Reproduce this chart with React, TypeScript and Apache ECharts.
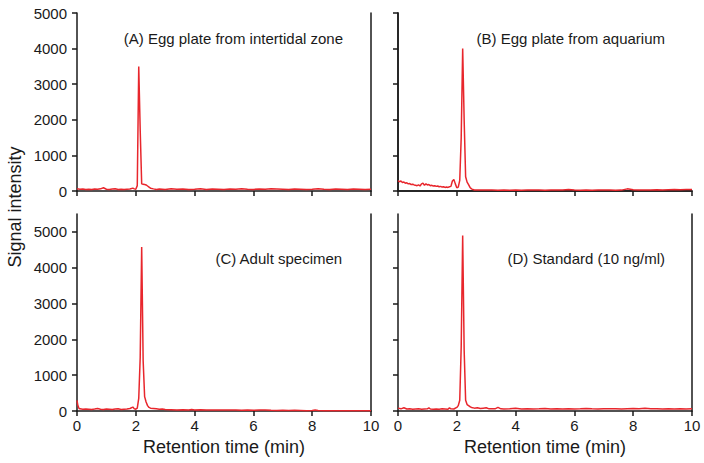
import React, { useEffect, useRef } from "react";
import * as echarts from "echarts";

// Panel (A) Egg plate from intertidal zone
const timeA = [0, 0.1, 0.2, 0.3, 0.4, 0.5, 0.6, 0.7, 0.8, 0.9, 1.0, 1.1, 1.2, 1.3, 1.4, 1.5, 1.6, 1.7, 1.8, 1.9, 1.95, 2.0, 2.05, 2.1, 2.15, 2.2, 2.25, 2.3, 2.35, 2.4, 2.45, 2.5, 2.6, 2.7, 2.8, 2.9, 3.0, 3.2, 3.4, 3.6, 3.8, 4.0, 4.2, 4.4, 4.6, 4.8, 5.0, 5.2, 5.4, 5.6, 5.8, 6.0, 6.2, 6.4, 6.6, 6.8, 7.0, 7.2, 7.4, 7.6, 7.8, 8.0, 8.2, 8.4, 8.6, 8.8, 9.0, 9.2, 9.4, 9.6, 9.8, 10];
const signalA = [60, 50, 55, 45, 50, 45, 55, 50, 60, 90, 50, 45, 55, 65, 45, 50, 40, 50, 55, 80, 60, 50, 150, 3500, 1700, 200, 190, 180, 170, 140, 110, 80, 60, 45, 55, 50, 45, 60, 50, 55, 45, 50, 60, 45, 55, 50, 45, 55, 50, 60, 50, 45, 55, 50, 60, 55, 50, 45, 55, 50, 45, 50, 60, 50, 45, 55, 50, 45, 55, 50, 45, 50];

// Panel (B) Egg plate from aquarium
const timeB = [0, 0.05, 0.1, 0.15, 0.2, 0.25, 0.3, 0.35, 0.4, 0.45, 0.5, 0.55, 0.6, 0.65, 0.7, 0.75, 0.8, 0.85, 0.9, 0.95, 1.0, 1.05, 1.1, 1.15, 1.2, 1.25, 1.3, 1.35, 1.4, 1.45, 1.5, 1.55, 1.6, 1.65, 1.7, 1.75, 1.8, 1.85, 1.9, 1.95, 2.0, 2.05, 2.1, 2.15, 2.2, 2.25, 2.3, 2.35, 2.4, 2.45, 2.5, 2.55, 2.6, 2.7, 2.8, 3.0, 3.2, 3.4, 3.6, 3.8, 4.0, 4.2, 4.4, 4.6, 4.8, 5.0, 5.2, 5.4, 5.6, 5.8, 6.0, 6.2, 6.4, 6.6, 6.8, 7.0, 7.2, 7.4, 7.6, 7.8, 7.9, 8.0, 8.2, 8.4, 8.6, 8.8, 9.0, 9.2, 9.4, 9.6, 9.8, 10];
const signalB = [290, 260, 280, 240, 250, 220, 230, 200, 210, 180, 190, 170, 160, 150, 170, 140, 200, 220, 160, 200, 170, 180, 150, 160, 140, 150, 130, 140, 120, 130, 110, 120, 100, 110, 100, 120, 130, 280, 320, 200, 90, 110, 300, 1500, 4000, 2000, 400, 250, 180, 100, 60, 40, 30, 30, 25, 30, 25, 20, 25, 20, 25, 20, 25, 30, 25, 20, 25, 30, 25, 40, 25, 20, 25, 20, 25, 30, 25, 20, 25, 60, 50, 35, 30, 25, 30, 35, 30, 35, 40, 35, 40, 45];

// Panel (C) Adult specimen
const timeC = [0, 0.03, 0.07, 0.1, 0.2, 0.3, 0.4, 0.5, 0.6, 0.7, 0.8, 0.9, 1.0, 1.1, 1.2, 1.3, 1.4, 1.5, 1.6, 1.7, 1.8, 1.9, 1.95, 2.0, 2.05, 2.1, 2.15, 2.2, 2.25, 2.3, 2.35, 2.4, 2.45, 2.5, 2.6, 2.7, 2.8, 2.9, 3.0, 3.2, 3.4, 3.6, 3.8, 3.9, 4.0, 4.2, 4.4, 4.6, 4.8, 5.0, 5.2, 5.4, 5.6, 5.8, 6.0, 6.2, 6.4, 6.6, 6.8, 7.0, 7.2, 7.4, 7.6, 7.8, 8.0, 8.1, 8.2, 8.4, 8.6, 8.8, 9.0, 9.2, 9.4, 9.6, 9.8, 10];
const signalC = [300, 150, 70, 60, 50, 55, 50, 45, 55, 70, 50, 45, 55, 50, 45, 55, 60, 45, 50, 55, 70, 110, 60, 50, 80, 350, 1500, 4580, 1400, 400, 250, 150, 100, 80, 70, 60, 50, 55, 40, 35, 30, 35, 30, 45, 30, 35, 30, 25, 30, 25, 30, 25, 20, 25, 20, 25, 30, 20, 15, 20, 15, 20, 15, 10, 15, 25, 15, 10, 10, 10, 10, 10, 10, 10, 10, 10];

// Panel (D) Standard (10 ng/ml)
const timeD = [0, 0.1, 0.2, 0.3, 0.4, 0.5, 0.6, 0.7, 0.8, 0.9, 1.0, 1.05, 1.1, 1.2, 1.3, 1.4, 1.5, 1.6, 1.7, 1.75, 1.8, 1.9, 2.0, 2.05, 2.1, 2.15, 2.2, 2.25, 2.3, 2.35, 2.4, 2.45, 2.5, 2.6, 2.7, 2.8, 2.9, 3.0, 3.1, 3.2, 3.3, 3.4, 3.5, 3.6, 3.8, 4.0, 4.2, 4.4, 4.6, 4.8, 5.0, 5.2, 5.4, 5.6, 5.8, 6.0, 6.2, 6.4, 6.6, 6.8, 7.0, 7.2, 7.4, 7.6, 7.8, 8.0, 8.2, 8.4, 8.6, 8.8, 9.0, 9.2, 9.4, 9.6, 9.8, 10];
const signalD = [80, 60, 90, 55, 60, 50, 55, 60, 50, 55, 60, 90, 55, 50, 55, 50, 60, 55, 50, 90, 60, 55, 100, 150, 300, 1800, 4900, 1700, 300, 180, 150, 120, 100, 80, 90, 70, 80, 90, 60, 65, 60, 100, 60, 55, 60, 80, 55, 60, 55, 60, 70, 55, 60, 55, 60, 55, 60, 70, 60, 55, 60, 65, 60, 55, 65, 70, 60, 75, 60, 65, 55, 60, 55, 60, 55, 60];

const panelLabels = [
  "(A) Egg plate from intertidal zone",
  "(B) Egg plate from aquarium",
  "(C) Adult specimen",
  "(D) Standard (10 ng/ml)",
];
const yTicks = [0, 1000, 2000, 3000, 4000, 5000];
const xTitle = "Retention time (min)";
const yTitle = "Signal intensity";

const FONT = "'Liberation Sans', Arial, sans-serif";
const INK = "#1a1a1a";
const RED = "#e8262c";

export default function App() {
  const ref = useRef<HTMLDivElement>(null);

  useEffect(() => {
    if (!ref.current) return;
    const chart = echarts.init(ref.current, undefined, { renderer: "svg" });

    const grids = [
      { left: 77, top: 13, width: 294, height: 178 },
      { left: 398, top: 13, width: 294, height: 178 },
      { left: 77, top: 214, width: 294, height: 197 },
      { left: 398, top: 214, width: 294, height: 197 },
    ];
    const yMax = [5000, 5000, 5500, 5500];
    const times = [timeA, timeB, timeC, timeD];
    const signals = [signalA, signalB, signalC, signalD];

    const axisLine = { show: true, lineStyle: { color: INK, width: 1.5 } };
    const plain = (v: number) => String(v);

    const xAxes: any[] = [0, 1, 2, 3].map((i) => ({
      type: "value",
      gridIndex: i,
      min: 0,
      max: 10,
      interval: 2,
      position: "bottom",
      axisLine,
      axisTick: { show: true, inside: false, length: 5, lineStyle: { color: INK, width: 1.5 } },
      axisLabel: {
        show: i >= 2,
        color: INK,
        fontSize: 15,
        fontFamily: FONT,
        margin: 7,
        formatter: plain,
      },
      splitLine: { show: false },
      name: i >= 2 ? xTitle : "",
      nameLocation: "middle",
      nameGap: 27,
      nameTextStyle: { color: INK, fontSize: 18, fontFamily: FONT },
    }));
    // top border line of panel B
    xAxes.push({
      type: "value",
      gridIndex: 1,
      min: 0,
      max: 10,
      position: "top",
      axisLine,
      axisTick: { show: false },
      axisLabel: { show: false },
      splitLine: { show: false },
    });

    const yAxes: any[] = [0, 1, 2, 3].map((i) => ({
      type: "value",
      gridIndex: i,
      min: 0,
      max: yMax[i],
      interval: 1000,
      position: "left",
      axisLine,
      axisTick: {
        show: true,
        inside: false,
        length: 5,
        customValues: yTicks,
        lineStyle: { color: INK, width: 1.5 },
      },
      axisLabel: {
        show: i % 2 === 0,
        customValues: yTicks,
        color: INK,
        fontSize: 15,
        fontFamily: FONT,
        margin: 10,
        formatter: plain,
      },
      splitLine: { show: false },
    }));
    // right border lines
    [0, 1, 2, 3].forEach((i) => {
      yAxes.push({
        type: "value",
        gridIndex: i,
        min: 0,
        max: yMax[i],
        position: "right",
        axisLine,
        axisTick: { show: false },
        axisLabel: { show: false },
        splitLine: { show: false },
      });
    });

    const series = [0, 1, 2, 3].map((i) => ({
      type: "line",
      xAxisIndex: i,
      yAxisIndex: i,
      showSymbol: false,
      symbol: "none",
      lineStyle: { color: RED, width: 1.5 },
      data: times[i].map((t, k) => [t, signals[i][k]]),
      z: 3,
    }));

    const labelRight = [361, 39, 361, 39];
    const labelTop = [31, 31, 251, 251];
    const titles = panelLabels.map((txt, i) => ({
      text: txt,
      right: labelRight[i],
      top: labelTop[i],
      padding: 0,
      textStyle: { color: INK, fontSize: 15, fontWeight: "normal", fontFamily: FONT },
    }));

    chart.setOption({
      animation: false,
      backgroundColor: "#ffffff",
      title: titles,
      grid: grids,
      xAxis: xAxes,
      yAxis: yAxes,
      series,
      graphic: [
        {
          type: "text",
          x: 15,
          y: 207,
          rotation: Math.PI / 2,
          style: {
            text: yTitle,
            fill: INK,
            fontSize: 18,
            fontFamily: FONT,
            textAlign: "center",
            textVerticalAlign: "middle",
          },
        },
      ],
    });

    return () => chart.dispose();
  }, []);

  return (
    <div
      ref={ref}
      style={{ position: "fixed", left: 0, top: 0, width: 704, height: 463, background: "#fff" }}
    />
  );
}
